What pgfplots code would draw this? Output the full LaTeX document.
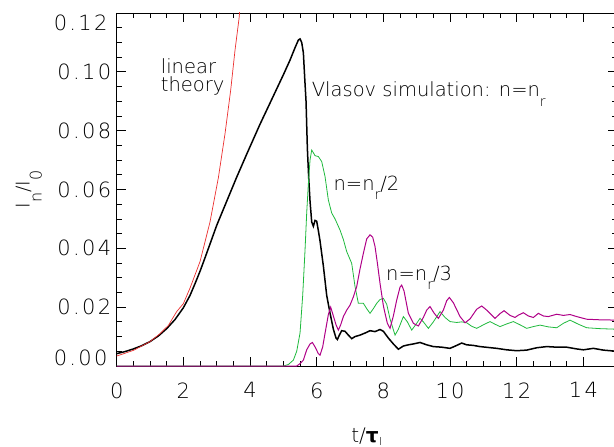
\documentclass[border=0pt]{standalone}
\usepackage{fontspec}
\setmainfont{DejaVu Sans ExtraLight}
\newfontfamily\dvs{DejaVu Sans}
\newfontfamily\tickfont[LetterSpace=11]{DejaVu Sans ExtraLight}
\usepackage{pgfplots}
\pgfplotsset{compat=1.18}
\definecolor{cred}{RGB}{235,45,45}
\definecolor{cgreen}{RGB}{30,185,60}
\definecolor{cmag}{RGB}{175,0,135}
\newcommand{\sub}[3]{\raisebox{-#1}{\fontsize{#2}{#2}\selectfont #3}}
\pgfplotstableread{
t y
0 0.0042
0.25 0.0049
0.5 0.0058
0.75 0.0069
1.0 0.0083
1.25 0.0102
1.5 0.0127
1.75 0.0158
2.0 0.0198
2.2 0.0240
2.35 0.0280
2.5 0.0322
2.65 0.0368
2.8 0.0415
3.0 0.0478
3.3 0.0560
3.6 0.0642
3.9 0.0720
4.3 0.0822
4.7 0.0918
5.0 0.0990
5.2 0.1040
5.35 0.1082
5.45 0.1108
5.5 0.1112
5.55 0.1100
5.6 0.1065
5.64 0.0980
5.68 0.0900
5.72 0.0740
5.76 0.0640
5.8 0.0560
5.85 0.0490
5.9 0.0475
5.95 0.0495
6.0 0.0492
6.05 0.0460
6.1 0.0425
6.2 0.0340
6.3 0.0240
6.4 0.0180
6.5 0.0125
6.58 0.0095
6.62 0.0090
6.68 0.0105
6.75 0.0120
6.85 0.0118
6.95 0.0105
7.05 0.0093
7.15 0.0100
7.3 0.0105
7.45 0.0112
7.6 0.0120
7.75 0.0117
7.9 0.0124
8.0 0.0118
8.15 0.0095
8.3 0.0075
8.45 0.0057
8.6 0.0068
8.75 0.0072
8.9 0.0075
9.1 0.0080
9.3 0.0072
9.5 0.0066
9.75 0.0064
10.0 0.0060
10.2 0.0070
10.35 0.0078
10.5 0.0072
10.7 0.0070
10.9 0.0066
11.15 0.0063
11.4 0.0060
11.7 0.0055
12.0 0.0052
12.3 0.0054
12.6 0.0062
12.9 0.0066
13.2 0.0064
13.5 0.0064
13.8 0.0058
14.0 0.0055
14.3 0.0060
14.6 0.0054
15.0 0.0050
}\black
\pgfplotstableread{
t y
0 0
5.0 0
5.15 0.0005
5.3 0.002
5.4 0.005
5.5 0.0112
5.58 0.024
5.65 0.0394
5.7 0.052
5.75 0.062
5.8 0.070
5.85 0.0734
5.9 0.0725
5.95 0.0715
6.05 0.0712
6.15 0.0695
6.25 0.0644
6.35 0.0564
6.45 0.0520
6.55 0.0500
6.7 0.0462
6.8 0.0430
6.9 0.0389
7.05 0.0349
7.15 0.0270
7.25 0.0213
7.4 0.0213
7.5 0.0195
7.6 0.0179
7.7 0.0195
7.8 0.0213
7.9 0.0226
8.0 0.0230
8.1 0.0210
8.2 0.0160
8.35 0.0105
8.45 0.0125
8.6 0.0168
8.72 0.0150
8.85 0.0122
9.0 0.0145
9.1 0.0162
9.2 0.0150
9.35 0.0128
9.5 0.0150
9.7 0.0185
9.85 0.0165
10.0 0.0151
10.2 0.0148
10.35 0.0150
10.5 0.0147
10.65 0.0135
10.8 0.0128
11.0 0.0140
11.2 0.0151
11.35 0.0142
11.5 0.0134
11.7 0.0143
11.9 0.0151
12.1 0.0140
12.3 0.0128
12.5 0.0134
12.7 0.0139
12.95 0.0133
13.2 0.0130
13.4 0.0145
13.6 0.0156
13.85 0.0142
14.1 0.0130
14.5 0.0127
15.0 0.0125
}\green
\pgfplotstableread{
t y
0 0
5.4 0
5.5 0.0008
5.6 0.002
5.7 0.0055
5.8 0.0075
5.87 0.0080
5.95 0.0065
6.05 0.0042
6.1 0.0037
6.18 0.0065
6.25 0.0111
6.35 0.0175
6.42 0.0200
6.5 0.0170
6.58 0.0140
6.65 0.0122
6.72 0.0140
6.8 0.0168
6.9 0.0190
7.0 0.0207
7.1 0.0235
7.2 0.0270
7.3 0.0330
7.4 0.0383
7.5 0.0432
7.6 0.0446
7.68 0.0438
7.75 0.0406
7.82 0.0350
7.9 0.0281
8.0 0.0205
8.05 0.0179
8.12 0.0145
8.2 0.0128
8.3 0.0170
8.4 0.0224
8.5 0.0268
8.55 0.0275
8.62 0.0255
8.75 0.0179
8.9 0.0145
9.05 0.0136
9.2 0.0165
9.3 0.0190
9.4 0.0202
9.52 0.0180
9.65 0.0162
9.8 0.0190
9.9 0.0222
9.98 0.0233
10.1 0.0215
10.3 0.0168
10.45 0.0147
10.6 0.0160
10.8 0.0193
10.95 0.0204
11.1 0.0190
11.35 0.0162
11.5 0.0178
11.62 0.0188
11.8 0.0172
11.95 0.0165
12.05 0.0173
12.2 0.0181
12.35 0.0170
12.5 0.0165
12.65 0.0179
12.8 0.0170
12.95 0.0168
13.2 0.0176
13.4 0.0172
13.6 0.0175
13.8 0.0168
14.1 0.0159
14.5 0.0157
15.0 0.0156
}\magenta
\pgfplotstableread{
t y
0 0.0034
0.5 0.0053
1.0 0.0083
1.3 0.0110
1.55 0.0138
1.8 0.0185
2.0 0.0212
2.2 0.0265
2.5 0.0355
2.8 0.0490
3.05 0.0640
3.25 0.0790
3.42 0.0938
3.55 0.1074
3.67 0.1181
3.8 0.134
}\linear
\begin{document}
\begin{tikzpicture}
\begin{axis}[
  name=ax,
  scale only axis,
  width=500bp, height=353bp,
  xmin=0, xmax=15, ymin=0, ymax=0.12,
  xtick={0,2,4,6,8,10,12,14},
  xticklabels={0,2,4,6,8,10,12,14},
  ytick={0,0.02,0.04,0.06,0.08,0.1,0.12},
  yticklabels={,0.02,0.04,0.06,0.08,0.10,},
  minor x tick num=3,
  minor y tick num=3,
  tick align=inside,
  major tick length=9bp,
  minor tick length=5bp,
  tick style={black, line width=0.8bp},
  axis line style={line width=0.9bp},
  ticklabel style={font=\tickfont\fontsize{21bp}{25bp}\selectfont},
  xticklabel style={anchor=north, yshift=-13bp},
  yticklabel style={anchor=east, xshift=-2bp},
  xlabel={t/{\dvs\bfseries τ}\sub{3bp}{11bp}{I}},
  ylabel={I\sub{12bp}{16bp}{n}/I\sub{12bp}{16bp}{0}},
  xlabel style={font=\fontsize{20bp}{24bp}\selectfont, at={([yshift=-76.5bp]axis description cs:0.5,0)}, anchor=base},
  ylabel style={font=\fontsize{19bp}{23bp}\selectfont, at={([xshift=-88bp]axis description cs:0,0.5)}, anchor=center},
  clip mode=individual,
]
\addplot[black, line width=1.5bp] table[x=t,y=y]{\black};
\addplot[cgreen, line width=0.8bp] table[x=t,y=y]{\green};
\addplot[cmag, line width=1bp] table[x=t,y=y]{\magenta};
\addplot[cred, line width=0.7bp] table[x=t,y=y]{\linear};
\node[anchor=south east, inner sep=0pt, font=\tickfont\fontsize{21bp}{25bp}\selectfont] at ([xshift=-9bp]axis description cs:0,0) {0.00};
\node[anchor=north east, inner sep=0pt, font=\tickfont\fontsize{21bp}{25bp}\selectfont] at ([xshift=-9bp,yshift=-2bp]axis description cs:0,1) {0.12};
\node[anchor=base west, inner sep=0pt, font=\fontsize{19.5bp}{23bp}\selectfont] at (axis cs:1.32,0.0995) {linear};
\node[anchor=base west, inner sep=0pt, font=\fontsize{19.5bp}{23bp}\selectfont] at (axis cs:1.32,0.0933) {theory};
\node[anchor=base west, inner sep=0pt, font=\fontsize{19.5bp}{23bp}\selectfont] at (axis cs:5.85,0.0916) {Vlasov simulation: n=n\sub{9.5bp}{14bp}{r}};
\node[anchor=base west, inner sep=0pt, font=\fontsize{19.5bp}{23bp}\selectfont] at (axis cs:6.5,0.0598) {n=n\sub{9.5bp}{14bp}{r}/2};
\node[anchor=base west, inner sep=0pt, font=\fontsize{19.5bp}{23bp}\selectfont] at (axis cs:8.08,0.0292) {n=n\sub{9.5bp}{14bp}{r}/3};
\end{axis}
\pgfresetboundingbox
\path ([shift={(-116.7bp,-81bp)}]ax.south west) rectangle ([shift={(-2.7bp,13bp)}]ax.north east);
\end{tikzpicture}
\end{document}
